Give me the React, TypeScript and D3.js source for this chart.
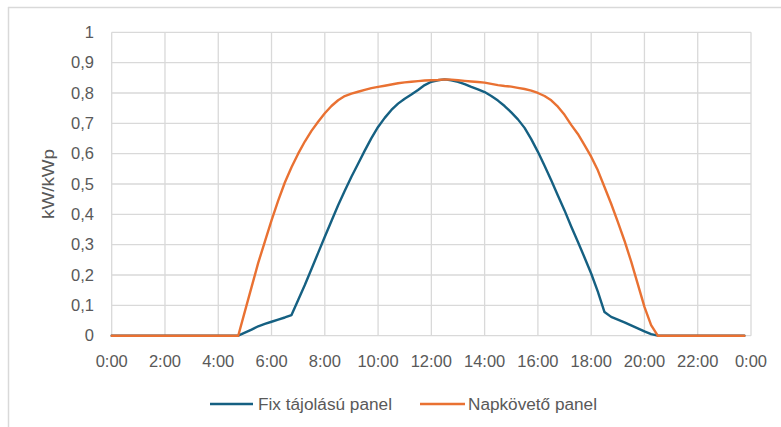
import React from 'react';
import * as d3 from 'd3';

// kW/kWp values every 15 minutes, 0:00 .. 23:45 (96 points)
const fixPanel = [
  0, 0, 0, 0, 0, 0, 0, 0, 0, 0, 0, 0, 0, 0, 0, 0, 0, 0, 0, 0,
  0.01, 0.02, 0.031, 0.039, 0.046, 0.053, 0.06, 0.068,
  0.118, 0.167, 0.22, 0.273, 0.326, 0.378, 0.43, 0.478,
  0.524, 0.567, 0.61, 0.651, 0.688, 0.718, 0.744, 0.765,
  0.781, 0.795, 0.81, 0.826, 0.837, 0.842, 0.845, 0.842,
  0.837, 0.829, 0.82, 0.812, 0.803, 0.79, 0.775, 0.757,
  0.736, 0.713, 0.685, 0.648, 0.606, 0.56, 0.512, 0.462,
  0.413, 0.36, 0.31, 0.258, 0.205, 0.145, 0.078, 0.062,
  0.053, 0.044, 0.034, 0.024, 0.014, 0.005,
  0, 0, 0, 0, 0, 0, 0, 0, 0, 0, 0, 0, 0, 0,
];

const trackerPanel = [
  0, 0, 0, 0, 0, 0, 0, 0, 0, 0, 0, 0, 0, 0, 0, 0, 0, 0, 0, 0,
  0.08, 0.16, 0.24, 0.31, 0.38, 0.445, 0.505, 0.555,
  0.6, 0.64, 0.675, 0.705, 0.733, 0.757, 0.776, 0.79,
  0.798, 0.804, 0.81, 0.816, 0.82, 0.824, 0.828, 0.832,
  0.835, 0.837, 0.839, 0.841, 0.842, 0.843, 0.845, 0.844,
  0.842, 0.84, 0.838, 0.836, 0.834, 0.83, 0.826, 0.823,
  0.821, 0.817, 0.813, 0.808, 0.8, 0.79, 0.776, 0.755,
  0.728, 0.695, 0.665, 0.628, 0.59, 0.545, 0.49, 0.435,
  0.375, 0.313, 0.245, 0.17, 0.095, 0.035,
  0, 0, 0, 0, 0, 0, 0, 0, 0, 0, 0, 0, 0, 0,
];

const xTickLabels = ['0:00', '2:00', '4:00', '6:00', '8:00', '10:00', '12:00', '14:00', '16:00', '18:00', '20:00', '22:00', '0:00'];
const yTicks = [0, 0.1, 0.2, 0.3, 0.4, 0.5, 0.6, 0.7, 0.8, 0.9, 1];

const seriesNames = ['Fix tájolású panel', 'Napkövető panel'];
const seriesColors = ['#156082', '#E97132'];

const W = 781;
const H = 427;
const left = 111.7;
const right = 751;
const top = 32.3;
const bottom = 335.7;
const font = '"Liberation Sans", Arial, sans-serif';
const grid = '#d9d9d9';
const textColor = '#595959';

export default function App() {
  const x = d3.scaleLinear().domain([0, 24]).range([left, right]);
  const y = d3.scaleLinear().domain([0, 1]).range([bottom, top]);

  const line = d3
    .line<number>()
    .x((_, i) => x(i * 0.25))
    .y((d) => y(d));

  const series = [fixPanel, trackerPanel];
  const fmt = (v: number) => (v === 0 ? '0' : v === 1 ? '1' : d3.format('.1f')(v).replace('.', ','));

  const legendItems = [
    { x1: 210, x2: 253, tx: 258, tl: 134 },
    { x1: 420, x2: 465, tx: 468, tl: 129 },
  ];

  return (
    <svg width={W} height={H} style={{ position: 'absolute', left: 0, top: 0, background: '#fff' }}>
      <rect x={0} y={0} width={W} height={H} fill="#fff" />
      {/* chart frame, cropped */}
      <line x1={8} y1={7.5} x2={W} y2={7.5} stroke={grid} strokeWidth={1.5} />
      <line x1={8.5} y1={7} x2={8.5} y2={H} stroke={grid} strokeWidth={1.5} />

      {/* gridlines */}
      {yTicks.map((t) => (
        <line key={'h' + t} x1={left} x2={right} y1={y(t)} y2={y(t)} stroke={grid} strokeWidth={1.3} />
      ))}
      {xTickLabels.map((_, i) => (
        <line key={'v' + i} x1={x(i * 2)} x2={x(i * 2)} y1={top} y2={bottom} stroke={grid} strokeWidth={1.3} />
      ))}

      {/* y tick labels */}
      {yTicks.map((t) => (
        <text key={'yl' + t} x={94} y={y(t)} dy="0.35em" textAnchor="end" fontFamily={font} fontSize={16.5} fill={textColor}>
          {fmt(t)}
        </text>
      ))}

      {/* x tick labels */}
      {xTickLabels.map((l, i) => (
        <text key={'xl' + i} x={x(i * 2)} y={361} dy="0.35em" textAnchor="middle" fontFamily={font} fontSize={16.5} fill={textColor}>
          {l}
        </text>
      ))}

      {/* y axis title */}
      <text
        transform={`translate(48,${(top + bottom) / 2}) rotate(-90)`}
        textAnchor="middle"
        dy="0.35em"
        fontFamily={font}
        fontSize={17}
        fill={textColor}
        textLength={70}
        lengthAdjust="spacingAndGlyphs"
      >
        kW/kWp
      </text>

      {/* series */}
      {series.map((s, i) => (
        <path key={'s' + i} d={line(s) || ''} fill="none" stroke={seriesColors[i]} strokeWidth={2.4} strokeLinejoin="round" strokeLinecap="round" />
      ))}

      {/* legend */}
      {legendItems.map((it, i) => (
        <g key={'lg' + i}>
          <line x1={it.x1} x2={it.x2} y1={404} y2={404} stroke={seriesColors[i]} strokeWidth={2.6} />
          <text x={it.tx} y={404} dy="0.35em" fontFamily={font} fontSize={16} fill={textColor} textLength={it.tl} lengthAdjust="spacingAndGlyphs">
            {seriesNames[i]}
          </text>
        </g>
      ))}
    </svg>
  );
}
